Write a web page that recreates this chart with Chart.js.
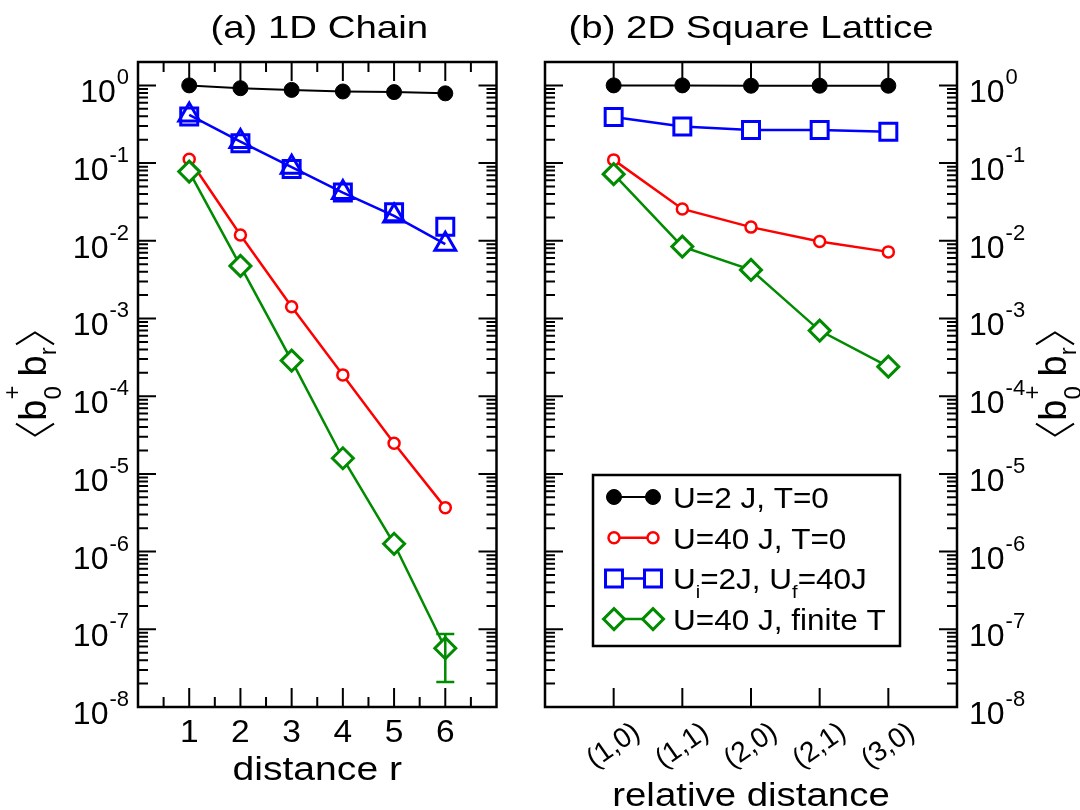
<!DOCTYPE html>
<html>
<head>
<meta charset="utf-8">
<script src="https://cdn.jsdelivr.net/npm/chart.js@4.4.1/dist/chart.umd.min.js"></script>
<style>
  html, body { margin: 0; padding: 0; background: #fff; }
  .panels { display: flex; width: 1080px; height: 810px; }
  canvas { display: block; }
</style>
</head>
<body>
<div class="panels">
  <canvas id="chainChart" width="530" height="810"></canvas>
  <canvas id="latticeChart" width="550" height="810"></canvas>
</div>
<script>
// 1D chain, distance r
const distR = [1, 2, 3, 4, 5, 6];
const chainU2T0 = [1.0, 0.92, 0.875, 0.835, 0.82, 0.79];
const chainU40T0 = [0.112, 0.0119, 0.00142, 1.88e-4, 2.48e-5, 3.68e-6];
const chainQuench = [0.397, 0.180, 0.084, 0.0417, 0.0233, 0.0152];
const chainQuenchTri = [0.417, 0.189, 0.0886, 0.0417, 0.0209, 0.00904];
const chainU40Finite = [0.0777, 0.00475, 2.87e-4, 1.59e-5, 1.26e-6, 5.71e-8];
const chainFiniteErrLo = [null, null, null, null, null, 2.1e-8];
const chainFiniteErrHi = [null, null, null, null, null, 8.7e-8];

// 2D square lattice, relative distance
const siteLabels = ['(1,0)', '(1,1)', '(2,0)', '(2,1)', '(3,0)'];
const latticeU2T0 = [1.0, 1.0, 0.99, 0.99, 0.99];
const latticeU40T0 = [0.110, 0.0257, 0.0150, 0.00977, 0.00720];
const latticeQuench = [0.392, 0.295, 0.267, 0.267, 0.253];
const latticeU40Finite = [0.0720, 0.00842, 0.00422, 6.99e-4, 2.40e-4];

const Y_MIN = 1e-8;
const Y_MAX = 2.0;
const FONT = '"Liberation Sans", Arial, Helvetica, sans-serif';
const GREEN = 'rgb(0,139,0)';

const styleU2 = {
  borderColor: '#000', borderWidth: 2,
  pointStyle: 'circle', pointRadius: 7.5,
  pointBackgroundColor: '#000', pointBorderColor: '#000', pointBorderWidth: 1
};
const styleU40 = {
  borderColor: '#ff0000', borderWidth: 2.5,
  pointStyle: 'circle', pointRadius: 5.5,
  pointBackgroundColor: '#fff', pointBorderColor: '#ff0000', pointBorderWidth: 2.5
};
const styleQuench = {
  borderColor: '#0000ff', borderWidth: 2.5,
  pointStyle: 'rect', pointRadius: 12,
  pointBackgroundColor: '#fff', pointBorderColor: '#0000ff', pointBorderWidth: 3
};
const styleFinite = {
  borderColor: GREEN, borderWidth: 2.5,
  pointStyle: 'rectRot', pointRadius: 10.5,
  pointBackgroundColor: '#fff', pointBorderColor: GREEN, pointBorderWidth: 3
};

function makeSeries(xs, ys, style, extra) {
  return Object.assign({
    data: ys.map((v, i) => ({ x: xs[i], y: v })),
    fill: false,
    tension: 0,
    pointHoverRadius: style.pointRadius
  }, style, extra || {});
}

function panelOptions(xMax, padding) {
  return {
    responsive: false,
    animation: false,
    devicePixelRatio: 1,
    layout: { padding: padding },
    scales: {
      x: { type: 'linear', min: 0, max: xMax, display: false },
      y: { type: 'logarithmic', min: Y_MIN, max: Y_MAX, display: false }
    },
    plugins: {
      legend: { display: false },
      title: { display: false },
      tooltip: { enabled: false }
    }
  };
}

function putText(ctx, str, x, y, size, align, stretch) {
  ctx.save();
  ctx.font = size + 'px ' + FONT;
  ctx.fillStyle = '#000';
  ctx.textAlign = align;
  ctx.textBaseline = 'alphabetic';
  ctx.translate(x, y);
  ctx.scale(stretch || 1, 1);
  ctx.fillText(str, 0, 0);
  ctx.restore();
}

// frame with inward ticks on all four sides
function drawFrame(chart, xMajor, xMinor) {
  const { ctx, chartArea: a, scales: { x, y } } = chart;
  ctx.save();
  ctx.strokeStyle = '#000';
  ctx.lineWidth = 2;
  ctx.beginPath();
  const vTick = (v, len) => {
    const px = x.getPixelForValue(v);
    ctx.moveTo(px, a.bottom); ctx.lineTo(px, a.bottom - len);
    ctx.moveTo(px, a.top); ctx.lineTo(px, a.top + len);
  };
  const hTick = (v, len) => {
    const py = y.getPixelForValue(v);
    ctx.moveTo(a.left, py); ctx.lineTo(a.left + len, py);
    ctx.moveTo(a.right, py); ctx.lineTo(a.right - len, py);
  };
  xMajor.forEach(v => vTick(v, 19));
  xMinor.forEach(v => vTick(v, 10));
  for (let n = -8; n <= 0; n++) {
    const dec = Math.pow(10, n);
    hTick(dec, 18);
    for (let k = 2; k <= 9; k++) {
      if (k * dec < Y_MAX) hTick(k * dec, 10);
    }
  }
  ctx.stroke();
  ctx.lineWidth = 2.5;
  ctx.strokeRect(a.left, a.top, a.right - a.left, a.bottom - a.top);
  ctx.restore();
}

// 10^n labels beside the decade ticks
function drawDecadeLabels(chart, side) {
  const { ctx, chartArea: a, scales: { y } } = chart;
  ctx.save();
  ctx.fillStyle = '#000';
  ctx.textBaseline = 'alphabetic';
  ctx.textAlign = 'left';
  for (let n = -8; n <= 0; n++) {
    const py = y.getPixelForValue(Math.pow(10, n));
    const exp = n === 0 ? '0' : '-' + (-n);
    ctx.font = '32px ' + FONT;
    const wb = ctx.measureText('10').width;
    ctx.font = '22px ' + FONT;
    const we = ctx.measureText(exp).width;
    const x0 = side === 'left' ? a.left - 9 - wb - we - 1 : a.right + 12;
    ctx.font = '32px ' + FONT;
    ctx.fillText('10', x0, py + 17);
    ctx.font = '22px ' + FONT;
    ctx.fillText(exp, x0 + wb + 1, py - 1);
  }
  ctx.restore();
}

// <b0+ br> written bottom to top
function drawCorrelator(ctx, bx, cy) {
  const big = '38px ' + FONT;
  const small = '24px ' + FONT;
  ctx.save();
  ctx.translate(bx, cy);
  ctx.rotate(-Math.PI / 2);
  ctx.fillStyle = '#000';
  ctx.strokeStyle = '#000';
  ctx.lineWidth = 2;
  ctx.textBaseline = 'alphabetic';
  ctx.textAlign = 'left';
  ctx.font = big;
  const wb = ctx.measureText('b').width;
  ctx.font = small;
  const ws = Math.max(ctx.measureText('0').width, ctx.measureText('+').width);
  const wr = ctx.measureText('r').width;
  const br = 12;
  const total = br + 3 + wb + ws + 9 + wb + wr + 3 + br;
  let x = -total / 2;
  ctx.beginPath();
  ctx.moveTo(x + br, -30); ctx.lineTo(x, -11); ctx.lineTo(x + br, 8);
  ctx.stroke();
  x += br + 3;
  ctx.font = big; ctx.fillText('b', x, 0); x += wb;
  ctx.font = small; ctx.fillText('+', x, -26); ctx.fillText('0', x, 15); x += ws + 9;
  ctx.font = big; ctx.fillText('b', x, 0); x += wb;
  ctx.font = small; ctx.fillText('r', x, 10); x += wr + 3;
  ctx.beginPath();
  ctx.moveTo(x, -30); ctx.lineTo(x + br, -11); ctx.lineTo(x, 8);
  ctx.stroke();
  ctx.restore();
}

const chainDecor = {
  id: 'chainDecor',
  beforeDatasetsDraw(chart) {
    drawFrame(chart, distR, [0.5, 1.5, 2.5, 3.5, 4.5, 5.5, 6.5]);
  },
  afterDatasetsDraw(chart) {
    const { ctx, scales: { x, y } } = chart;
    ctx.save();
    ctx.strokeStyle = GREEN;
    ctx.lineWidth = 2.5;
    ctx.beginPath();
    distR.forEach((r, i) => {
      if (chainFiniteErrLo[i] == null) return;
      const px = x.getPixelForValue(r);
      const lo = y.getPixelForValue(chainFiniteErrLo[i]);
      const hi = y.getPixelForValue(chainFiniteErrHi[i]);
      ctx.moveTo(px, lo); ctx.lineTo(px, hi);
      ctx.moveTo(px - 9, lo); ctx.lineTo(px + 9, lo);
      ctx.moveTo(px - 9, hi); ctx.lineTo(px + 9, hi);
    });
    ctx.stroke();
    ctx.restore();
  },
  afterDraw(chart) {
    const { ctx, chartArea: a, scales: { x } } = chart;
    const cx = (a.left + a.right) / 2;
    putText(ctx, '(a) 1D Chain', cx + 2, 38, 32, 'center', 1.2);
    distR.forEach(r => putText(ctx, String(r), x.getPixelForValue(r), 742, 31, 'center', 1.08));
    putText(ctx, 'distance r', cx, 780, 34, 'center', 1.15);
    drawDecadeLabels(chart, 'left');
    drawCorrelator(ctx, 46, 384);
  }
};

const legendRows = [
  { style: styleU2, parts: [['U=2 J, T=0']] },
  { style: styleU40, parts: [['U=40 J, T=0']] },
  { style: styleQuench, parts: [['U'], ['i', 'sub'], ['=2J, U'], ['f', 'sub'], ['=40J']] },
  { style: styleFinite, parts: [['U=40 J, finite T']] }
];

function drawMarker(ctx, style, px, py) {
  ctx.save();
  ctx.fillStyle = style.pointBackgroundColor;
  ctx.strokeStyle = style.pointBorderColor;
  ctx.lineWidth = style.pointBorderWidth;
  Chart.helpers.drawPoint(ctx, {
    pointStyle: style.pointStyle,
    radius: style.pointRadius,
    rotation: 0,
    borderWidth: style.pointBorderWidth
  }, px, py);
  ctx.restore();
}

function drawLegend(ctx) {
  const box = { left: 63, top: 475, right: 370, bottom: 646 };
  ctx.save();
  ctx.fillStyle = '#fff';
  ctx.fillRect(box.left, box.top, box.right - box.left, box.bottom - box.top);
  ctx.strokeStyle = '#000';
  ctx.lineWidth = 2.5;
  ctx.strokeRect(box.left, box.top, box.right - box.left, box.bottom - box.top);
  legendRows.forEach((row, i) => {
    const cy = 497 + i * 40.7;
    const x1 = 84, x2 = 123;
    ctx.strokeStyle = row.style.borderColor;
    ctx.lineWidth = row.style.borderWidth;
    ctx.beginPath();
    ctx.moveTo(x1, cy); ctx.lineTo(x2, cy);
    ctx.stroke();
    drawMarker(ctx, row.style, x1, cy);
    drawMarker(ctx, row.style, x2, cy);
    let tx = 143;
    row.parts.forEach(([str, kind]) => {
      const size = kind === 'sub' ? 19 : 30;
      const dy = kind === 'sub' ? 9 : 0;
      putText(ctx, str, tx, cy + 11 + dy, size, 'left', 1.05);
      ctx.font = size + 'px ' + FONT;
      tx += ctx.measureText(str).width * 1.05;
    });
  });
  ctx.restore();
}

const latticeDecor = {
  id: 'latticeDecor',
  beforeDatasetsDraw(chart) {
    drawFrame(chart, siteLabels.map((_, i) => i + 1), []);
  },
  afterDraw(chart) {
    const { ctx, chartArea: a, scales: { x } } = chart;
    const cx = (a.left + a.right) / 2;
    putText(ctx, '(b) 2D Square Lattice', cx, 38, 32, 'center', 1.2);
    siteLabels.forEach((lab, i) => {
      ctx.save();
      ctx.translate(x.getPixelForValue(i + 1), 746);
      ctx.rotate(-35 * Math.PI / 180);
      ctx.font = '28px ' + FONT;
      ctx.fillStyle = '#000';
      ctx.textAlign = 'center';
      ctx.textBaseline = 'middle';
      ctx.fillText(lab, 0, 0);
      ctx.restore();
    });
    putText(ctx, 'relative distance', cx, 806, 34, 'center', 1.13);
    drawDecadeLabels(chart, 'right');
    drawCorrelator(ctx, 536, 384);
    drawLegend(ctx);
  }
};

new Chart(document.getElementById('chainChart'), {
  type: 'line',
  data: {
    datasets: [
      makeSeries(distR, chainU2T0, styleU2),
      makeSeries(distR, chainU40Finite, styleFinite),
      makeSeries(distR, chainU40T0, styleU40),
      makeSeries(distR, chainQuenchTri, styleQuench, {
        pointStyle: 'triangle', pointRadius: 12, pointBackgroundColor: 'rgba(255,255,255,0)'
      }),
      makeSeries(distR, chainQuench, styleQuench, { showLine: false })
    ]
  },
  options: panelOptions(7, { left: 138, right: 33.5, top: 62, bottom: 103 }),
  plugins: [chainDecor]
});

const sitePos = siteLabels.map((_, i) => i + 1);

new Chart(document.getElementById('latticeChart'), {
  type: 'line',
  data: {
    datasets: [
      makeSeries(sitePos, latticeU2T0, styleU2),
      makeSeries(sitePos, latticeU40Finite, styleFinite),
      makeSeries(sitePos, latticeU40T0, styleU40),
      makeSeries(sitePos, latticeQuench, styleQuench)
    ]
  },
  options: panelOptions(6, { left: 11, right: 123, top: 62, bottom: 103 }),
  plugins: [latticeDecor]
});
</script>
</body>
</html>
